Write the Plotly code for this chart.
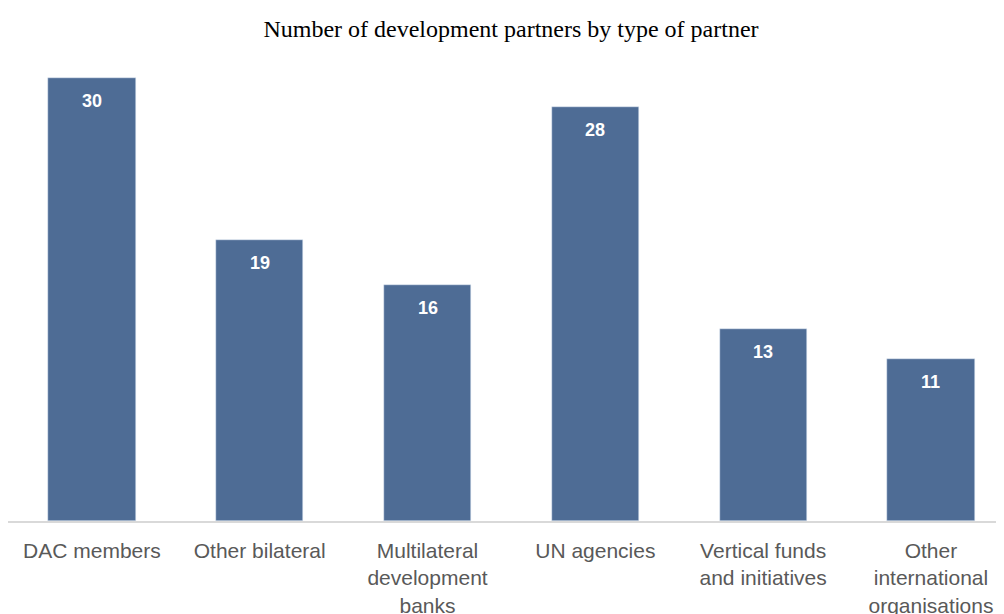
import plotly.graph_objects as go

# partner types and counts
categories = ['DAC members', 'Other bilateral', 'Multilateral<br>development<br>banks',
              'UN agencies', 'Vertical funds<br>and initiatives', 'Other<br>international<br>organisations']
counts = [30, 19, 16, 28, 13, 11]

positions = list(range(len(categories)))

fig = go.Figure(go.Bar(
    x=positions, y=counts,
    marker_color='#4E6C95',
    width=0.52,
    hoverinfo='x+y',
))

# value labels just inside the top of each bar
for p, c in zip(positions, counts):
    fig.add_annotation(x=p, y=c, text='<b>%d</b>' % c, showarrow=False,
                       yanchor='middle', yshift=-23,
                       font=dict(family='Liberation Sans, Arial', size=18, color='white'))

fig.update_layout(
    width=1004, height=614,
    paper_bgcolor='white', plot_bgcolor='white',
    margin=dict(l=0, r=0, t=60, b=101),
    title=dict(text='Number of development partners by type of partner',
               x=0.501, xanchor='center', y=0.967, yanchor='middle',
               font=dict(family='Liberation Serif, Times New Roman', size=24, color='black')),
    showlegend=False,
    bargap=0,
)
fig.update_xaxes(
    tickvals=positions, ticktext=categories,
    range=[-0.5, 5.483],
    automargin=False,
    showline=True, linecolor='#D9D9D9', linewidth=1.5,
    ticks='outside', ticklen=10, tickcolor='rgba(0,0,0,0)',
    tickfont=dict(family='Liberation Sans, Arial', size=21, color='#595959'),
    showgrid=False, zeroline=False,
)
fig.update_yaxes(range=[0, 30.67], visible=False, showgrid=False, automargin=False)

fig.write_html('out.html')
